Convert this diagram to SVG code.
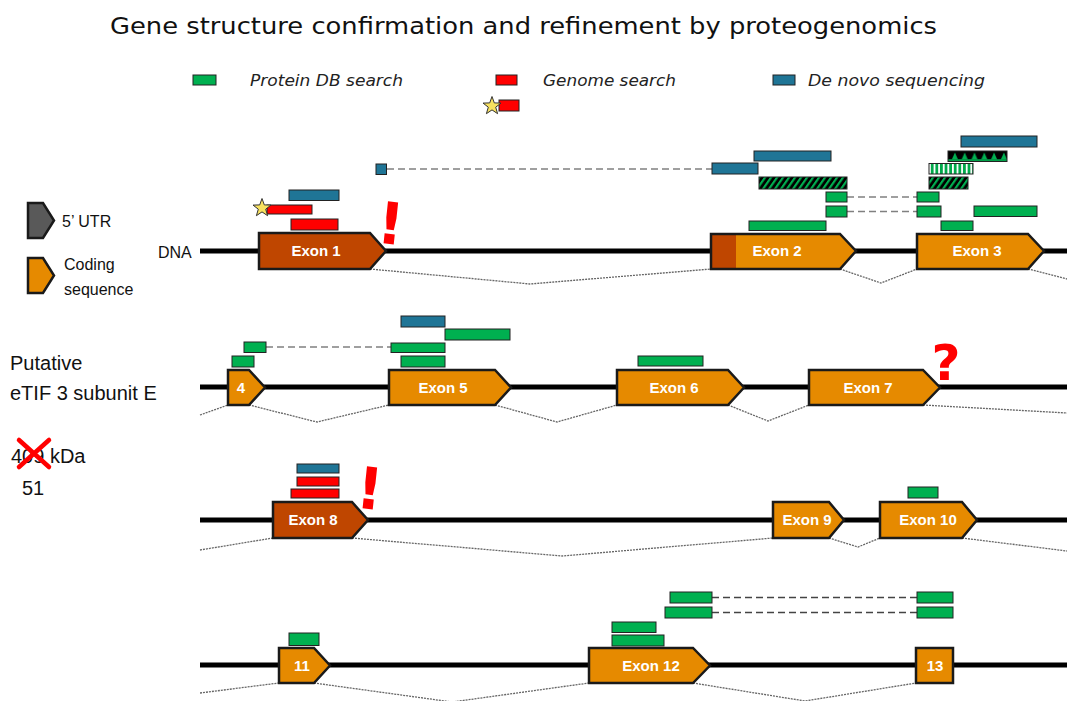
<svg xmlns="http://www.w3.org/2000/svg" width="1067" height="701" viewBox="0 0 1067 701">
  <defs>
    <pattern id="hatch" width="6" height="12" patternUnits="userSpaceOnUse" patternTransform="skewX(-35)">
      <rect width="6" height="12" fill="#000"/>
      <rect x="0" width="2.6" height="12" fill="#00b050"/>
    </pattern>
    <pattern id="vstripe" width="4.6" height="12" patternUnits="userSpaceOnUse" x="929">
      <rect width="4.6" height="12" fill="#fff"/>
      <rect x="1.8" width="2.8" height="12" fill="#00a84a"/>
    </pattern>
    <pattern id="tri" width="9.8" height="11" patternUnits="userSpaceOnUse" x="950" y="151">
      <rect width="9.8" height="11" fill="#000"/>
      <polygon points="1.8,8.5 4.9,1.5 8,8.5" fill="#00b050"/>
      <rect y="8.3" width="9.8" height="1.6" fill="#00b050"/>
    </pattern>
    <symbol id="star" viewBox="-10 -10 20 20" overflow="visible">
      <polygon points="0,-9.5 2.3,-3.1 9,-2.9 3.7,1.2 5.6,7.7 0,3.9 -5.6,7.7 -3.7,1.2 -9,-2.9 -2.3,-3.1" fill="#f7e160" stroke="#333" stroke-width="1"/>
    </symbol>
  </defs>
  <style>
    .title { font-family: "DejaVu Sans", "Liberation Sans", sans-serif; font-size: 23px; fill: #111; }
    .leg { font-family: "DejaVu Sans", "Liberation Sans", sans-serif; font-size: 16px; font-style: italic; fill: #222; }
    .side { font-family: "Liberation Sans", Arial, sans-serif; font-size: 20px; fill: #111; }
    .small { font-family: "Liberation Sans", Arial, sans-serif; font-size: 16px; fill: #111; }
    .lbl { font-family: "Liberation Sans", Arial, sans-serif; font-size: 15px; font-weight: bold; fill: #fff; text-anchor: middle; }
    .dna { stroke: #000; stroke-width: 5; fill: none; }
    .cds { fill: #e68a00; stroke: #1a1a1a; stroke-width: 2.5; stroke-linejoin: miter; }
    .utr { fill: #bf4600; stroke: #1a1a1a; stroke-width: 2.5; }
    .gray { fill: #595959; stroke: #1a1a1a; stroke-width: 2.5; }
    .pdb { fill: #00b050; stroke: #222; stroke-width: 1; }
    .gen { fill: #ff0000; stroke: #222; stroke-width: 1; }
    .dnv { fill: #1f7596; stroke: #222; stroke-width: 1; }
    .pat { stroke: #222; stroke-width: 1; }
    .link { stroke: #808080; stroke-width: 1.6; stroke-dasharray: 7 4; fill: none; }
    .link2 { stroke: #444; stroke-width: 1.4; stroke-dasharray: 7 4; fill: none; }
    .splice { stroke: #666; stroke-width: 1.3; stroke-dasharray: 2 1; fill: none; }
    .mark { font-family: "DejaVu Sans", "Liberation Sans", sans-serif; font-weight: bold; fill: #ff0000; text-anchor: middle; }
  </style>

  <!-- heading -->
  <text class="title" x="110" y="34" textLength="827" lengthAdjust="spacingAndGlyphs">Gene structure confirmation and refinement by proteogenomics</text>

  <!-- evidence legend -->
  <g id="legend">
    <rect class="pdb" x="193" y="75" width="23" height="10"/>
    <text class="leg" x="250" y="86" textLength="153" lengthAdjust="spacingAndGlyphs">Protein DB search</text>
    <rect class="gen" x="496" y="75" width="21" height="10"/>
    <text class="leg" x="543" y="86" textLength="133" lengthAdjust="spacingAndGlyphs">Genome search</text>
    <rect class="gen" x="499" y="100" width="20" height="11"/>
    <use href="#star" x="482" y="96" width="20" height="20"/>
    <rect class="dnv" x="773" y="75" width="22" height="10"/>
    <text class="leg" x="808" y="86" textLength="177" lengthAdjust="spacingAndGlyphs">De novo sequencing</text>
  </g>

  <!-- feature key -->
  <g id="key">
    <path class="gray" d="M28 203 H43 L54 220.5 L43 238 H28 Z"/>
    <text class="small" x="62" y="227">5’ UTR</text>
    <path class="cds" d="M28 258 H43 L54 275.5 L43 293 H28 Z"/>
    <text class="small" x="64" y="270">Coding</text>
    <text class="small" x="64" y="295">sequence</text>
  </g>

  <!-- protein annotation -->
  <g id="protein">
    <text class="side" x="10" y="370">Putative</text>
    <text class="side" x="10" y="400">eTIF 3 subunit E</text>
    <text class="side" x="11" y="463">409 kDa</text>
    <path d="M19 440 L49 467 M49 440 L19 467" stroke="#ff0000" stroke-width="4.5" stroke-linecap="round"/>
    <text class="side" x="22" y="495">51</text>
  </g>

  <!-- genomic backbone -->
  <g id="dna">
    <text class="small" x="158" y="258">DNA</text>
    <line class="dna" x1="200" y1="251" x2="1067" y2="251"/>
    <line class="dna" x1="200" y1="387" x2="1067" y2="387"/>
    <line class="dna" x1="200" y1="520" x2="1067" y2="520"/>
    <line class="dna" x1="200" y1="665" x2="1067" y2="665"/>
  </g>

  <!-- connectors: splice junctions and peptide links -->
  <g id="connectors">
    <polyline class="splice" points="370,269 530,284 711,269"/>
    <polyline class="splice" points="840,269 881,283 917,269"/>
    <polyline class="splice" points="1028,269 1067,279"/>
    <polyline class="splice" points="200,415 228,405"/>
    <polyline class="splice" points="249,405 317,422 389,405"/>
    <polyline class="splice" points="495,405 557,422 617,405"/>
    <polyline class="splice" points="728,405 768,421 809,405"/>
    <polyline class="splice" points="923,405 1067,413"/>
    <polyline class="splice" points="200,550 273,538"/>
    <polyline class="splice" points="352,538 562,556 773,538"/>
    <polyline class="splice" points="829,538 858,547 880,538"/>
    <polyline class="splice" points="962,538 1067,551"/>
    <polyline class="splice" points="200,693 279,683"/>
    <polyline class="splice" points="314,683 452,702 589,683"/>
    <polyline class="splice" points="693,683 805,701 916,683"/>
    <line class="link" x1="387" y1="169" x2="712" y2="169"/>
    <line class="link" x1="847" y1="197" x2="917" y2="197"/>
    <line class="link" x1="847" y1="211.5" x2="917" y2="211.5"/>
    <line class="link" x1="266" y1="347" x2="391" y2="347"/>
    <line class="link2" x1="712" y1="597.5" x2="917" y2="597.5"/>
    <line class="link2" x1="712" y1="612.5" x2="917" y2="612.5"/>
  </g>

  <!-- row 1 -->
  <g id="exon1">
    <path class="utr" d="M259 233 H370 L386 251 L370 269 H259 Z"/>
    <text class="lbl" x="316" y="256">Exon 1</text>
  </g>
  <g id="exon1-evidence">
    <rect class="dnv" x="289" y="190" width="50" height="10.5"/>
    <rect class="gen" x="267" y="205" width="45" height="9"/>
    <use href="#star" x="252" y="198" width="20" height="20"/>
    <rect class="gen" x="291" y="219" width="47" height="11"/>
    <text class="mark" x="391" y="244" font-size="58" transform="rotate(6 391 222)">!</text>
  </g>
  <g id="exon2">
    <path d="M711 234 H840 L856 251 L840 269 H711 Z" fill="#e68a00"/>
    <rect x="711" y="234" width="25" height="35" fill="#bf4600"/>
    <path d="M711 234 H840 L856 251 L840 269 H711 Z" fill="none" stroke="#1a1a1a" stroke-width="2.5"/>
    <text class="lbl" x="777" y="256">Exon 2</text>
  </g>
  <g id="exon3">
    <path class="cds" d="M917 234 H1028 L1044 251 L1028 269 H917 Z"/>
    <text class="lbl" x="977" y="256">Exon 3</text>
  </g>
  <g id="exon2-3-evidence">
    <rect class="dnv" x="376" y="164" width="10.5" height="10.5"/>
    <rect class="dnv" x="961" y="136" width="76" height="11"/>
    <rect class="dnv" x="754" y="151" width="77" height="10"/>
    <rect class="pat" x="948" y="151" width="59" height="10.5" fill="url(#tri)"/>
    <rect class="dnv" x="712" y="163" width="46" height="11"/>
    <rect class="pat" x="929" y="163.5" width="44" height="10.5" fill="url(#vstripe)"/>
    <rect class="pat" x="759" y="177" width="88" height="12" fill="url(#hatch)"/>
    <rect class="pat" x="929" y="177" width="39" height="12" fill="url(#hatch)"/>
    <rect class="pdb" x="826" y="192" width="21" height="10"/>
    <rect class="pdb" x="917" y="192" width="22" height="10"/>
    <rect class="pdb" x="826" y="206" width="21" height="11"/>
    <rect class="pdb" x="917" y="206" width="24" height="11"/>
    <rect class="pdb" x="974" y="206" width="63" height="10.5"/>
    <rect class="pdb" x="749" y="221" width="77" height="9.5"/>
    <rect class="pdb" x="941" y="221" width="32" height="9.5"/>
  </g>

  <!-- row 2 -->
  <g id="exon4">
    <path class="cds" d="M228 370 H249 L265 387.5 L249 405 H228 Z"/>
    <text class="lbl" x="241" y="393">4</text>
  </g>
  <g id="exon5">
    <path class="cds" d="M389 370 H495 L511 387.5 L495 405 H389 Z"/>
    <text class="lbl" x="443" y="393">Exon 5</text>
  </g>
  <g id="exon4-5-evidence">
    <rect class="pdb" x="232" y="356" width="22" height="11"/>
    <rect class="pdb" x="244" y="342" width="22" height="10.5"/>
    <rect class="pdb" x="391" y="343" width="54" height="9.5"/>
    <rect class="pdb" x="401" y="356" width="44" height="11"/>
    <rect class="dnv" x="401" y="316" width="44" height="11"/>
    <rect class="pdb" x="445" y="329" width="65" height="11"/>
  </g>
  <g id="exon6">
    <path class="cds" d="M617 370 H728 L744 387.5 L728 405 H617 Z"/>
    <text class="lbl" x="674" y="393">Exon 6</text>
    <rect class="pdb" x="638" y="356" width="65" height="10"/>
  </g>
  <g id="exon7">
    <path class="cds" d="M809 370 H923 L940 387.5 L923 405 H809 Z"/>
    <text class="lbl" x="868" y="393">Exon 7</text>
    <text class="mark" x="946" y="380" font-size="50">?</text>
  </g>

  <!-- row 3 -->
  <g id="exon8">
    <path class="utr" d="M273 502 H352 L368 520 L352 538 H273 Z"/>
    <text class="lbl" x="313" y="525">Exon 8</text>
  </g>
  <g id="exon8-evidence">
    <rect class="dnv" x="297" y="464" width="42" height="9"/>
    <rect class="gen" x="297" y="477" width="42" height="9"/>
    <rect class="gen" x="291" y="489" width="48" height="9"/>
    <text class="mark" x="370" y="509" font-size="58" transform="rotate(6 370 487)">!</text>
  </g>
  <g id="exon9">
    <path class="cds" d="M773 502 H829 L844 520 L829 538 H773 Z"/>
    <text class="lbl" x="807" y="525">Exon 9</text>
  </g>
  <g id="exon10">
    <path class="cds" d="M880 502 H962 L977 520 L962 538 H880 Z"/>
    <text class="lbl" x="928" y="525">Exon 10</text>
    <rect class="pdb" x="908" y="487" width="30" height="11"/>
  </g>

  <!-- row 4 -->
  <g id="exon11">
    <path class="cds" d="M279 648 H314 L330 665.5 L314 683 H279 Z"/>
    <text class="lbl" x="302" y="671">11</text>
    <rect class="pdb" x="289" y="633" width="30" height="12.5"/>
  </g>
  <g id="exon12">
    <path class="cds" d="M589 648 H693 L710 665.5 L693 683 H589 Z"/>
    <text class="lbl" x="651" y="671">Exon 12</text>
  </g>
  <g id="exon12-13-evidence">
    <rect class="pdb" x="612" y="622" width="44" height="10.5"/>
    <rect class="pdb" x="612" y="635" width="52" height="11"/>
    <rect class="pdb" x="670" y="592" width="42" height="11"/>
    <rect class="pdb" x="665" y="607" width="47" height="11"/>
    <rect class="pdb" x="917" y="592" width="36" height="11"/>
    <rect class="pdb" x="917" y="607" width="36" height="11"/>
  </g>
  <g id="exon13">
    <rect class="cds" x="916" y="648" width="37" height="35"/>
    <text class="lbl" x="935" y="671">13</text>
  </g>
</svg>
